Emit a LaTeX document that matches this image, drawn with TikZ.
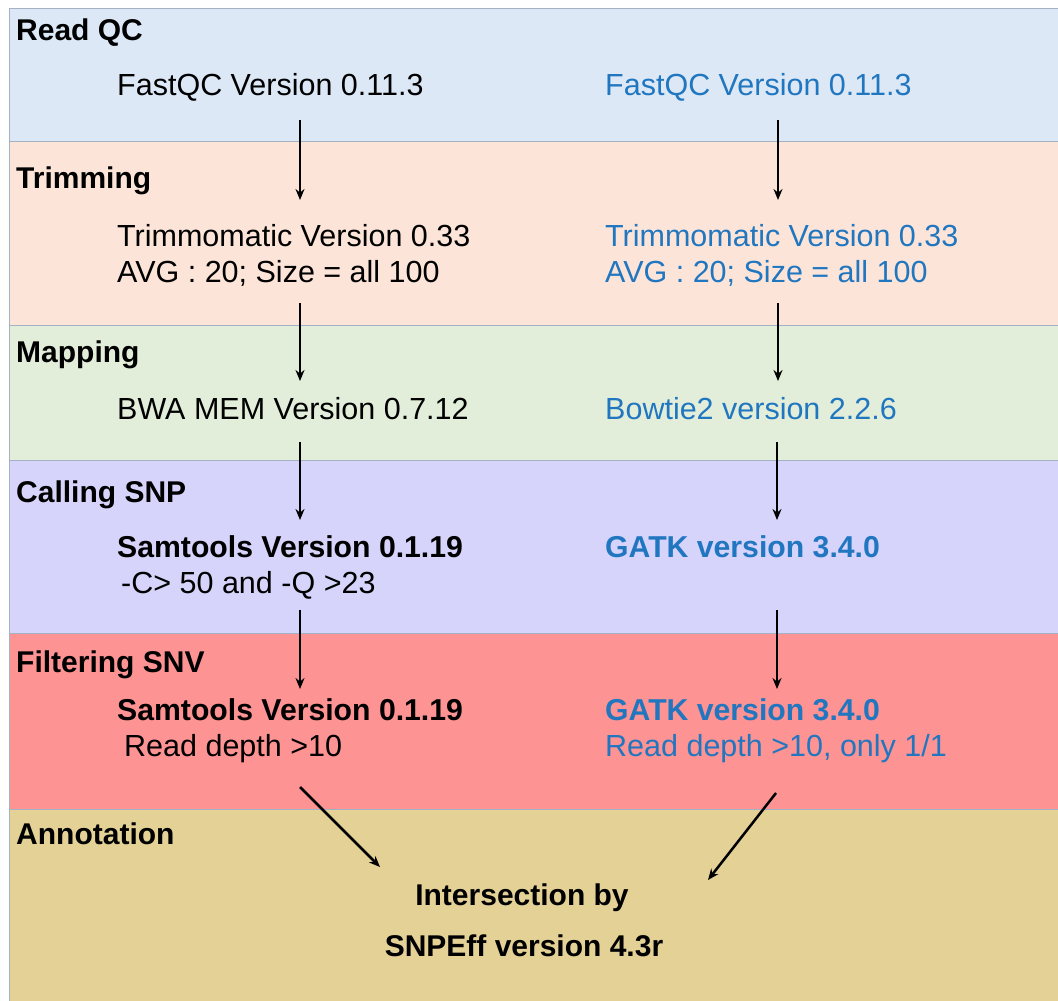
\documentclass[tikz,border=0pt]{standalone}
\usepackage{fontspec}
\setmainfont{Liberation Sans}
\usetikzlibrary{arrows.meta}

\definecolor{qcbg}{HTML}{DCE8F6}
\definecolor{trimbg}{HTML}{FCE5D8}
\definecolor{mapbg}{HTML}{E2EED9}
\definecolor{callbg}{HTML}{D6D4FB}
\definecolor{filtbg}{HTML}{FD9393}
\definecolor{annobg}{HTML}{E3D196}
\definecolor{bandline}{HTML}{A4B2C6}
\definecolor{tool}{RGB}{33,118,192}

\begin{document}
\begin{tikzpicture}[x=1pt, y=-1pt,
  band/.style = {draw=bandline, line width=1pt},
  head/.style = {anchor=base west, inner sep=0, font=\fontsize{30}{36}\selectfont\bfseries},
  txt/.style = {anchor=base west, inner sep=0, font=\fontsize{30.5}{36}\selectfont},
  bold/.style = {txt, font=\fontsize{30.2}{36}\selectfont\bfseries},
  gat/.style = {text=tool},
  mid/.style = {anchor=base, inner sep=0, font=\fontsize{30}{36}\selectfont\bfseries},
  arr/.style = {-{Stealth[length=11pt,width=9pt]}, line width=2.5pt}]
\useasboundingbox (0,0) rectangle (1058,1001);

% bands
\filldraw[band, fill=qcbg] (9,8) rectangle (1070,141);
\filldraw[band, fill=trimbg] (9,141) rectangle (1070,325);
\filldraw[band, fill=mapbg] (9,325) rectangle (1070,460);
\filldraw[band, fill=callbg] (9,460) rectangle (1070,633);
\filldraw[band, fill=filtbg] (9,633) rectangle (1070,809);
\filldraw[band, fill=annobg] (9,809) rectangle (1070,1010);

% headings
\node[head] (hqc) at (16,40) {Read QC};
\node[head] (htrim) at (16,188) {Trimming};
\node[head] (hmap) at (16,362) {Mapping};
\node[head] (hcall) at (16,502) {Calling SNP};
\node[head] (hfilt) at (16,672) {Filtering SNV};
\node[head] (hanno) at (16,844) {Annotation};

% left pipeline
\node[txt] (qcL) at (117,95) {FastQC Version 0.11.3};
\node[txt] (trimL) at (117,246) {Trimmomatic Version 0.33};
\node[txt] (trimLb) at (117,282) {AVG : 20; Size = all 100};
\node[txt] (mapL) at (117,419) {BWA MEM Version 0.7.12};
\node[bold] (callL) at (117,557) {Samtools Version 0.1.19};
\node[txt] (callLb) at (121,593) {-C> 50 and -Q >23};
\node[bold] (filtL) at (117,720) {Samtools Version 0.1.19};
\node[txt] (filtLb) at (124,756) {Read depth >10};

% right pipeline
\node[txt, gat] (qcR) at (605,95) {FastQC Version 0.11.3};
\node[txt, gat] (trimR) at (605,246) {Trimmomatic Version 0.33};
\node[txt, gat] (trimRb) at (605,282) {AVG : 20; Size = all 100};
\node[txt, gat] (mapR) at (605,419) {Bowtie2 version 2.2.6};
\node[bold, gat] (callR) at (605,557) {GATK version 3.4.0};
\node[bold, gat] (filtR) at (605,720) {GATK version 3.4.0};
\node[txt, gat] (filtRb) at (605,756) {Read depth >10, only 1/1};

% annotation
\node[mid] (inter) at (522,905) {Intersection by};
\node[mid] (snpeff) at (524,956) {SNPEff version 4.3r};

% arrow ends
\coordinate (l1) at (300,120); \coordinate (l1e) at (300,200);
\coordinate (l2) at (300,303); \coordinate (l2e) at (300,381);
\coordinate (l3) at (300,442); \coordinate (l3e) at (300,520);
\coordinate (l4) at (300,610); \coordinate (l4e) at (300,689);
\coordinate (l5) at (300,787); \coordinate (l5e) at (380,867);
\coordinate (r1) at (778,120); \coordinate (r1e) at (778,200);
\coordinate (r2) at (778,303); \coordinate (r2e) at (778,381);
\coordinate (r3) at (777,442); \coordinate (r3e) at (777,520);
\coordinate (r4) at (777,610); \coordinate (r4e) at (777,689);
\coordinate (r5) at (776,793); \coordinate (r5e) at (708,880);

\draw[arr] (l1) -- (l1e);
\draw[arr] (l2) -- (l2e);
\draw[arr] (l3) -- (l3e);
\draw[arr] (l4) -- (l4e);
\draw[arr] (l5) -- (l5e);
\draw[arr] (r1) -- (r1e);
\draw[arr] (r2) -- (r2e);
\draw[arr] (r3) -- (r3e);
\draw[arr] (r4) -- (r4e);
\draw[arr] (r5) -- (r5e);
\end{tikzpicture}
\end{document}
